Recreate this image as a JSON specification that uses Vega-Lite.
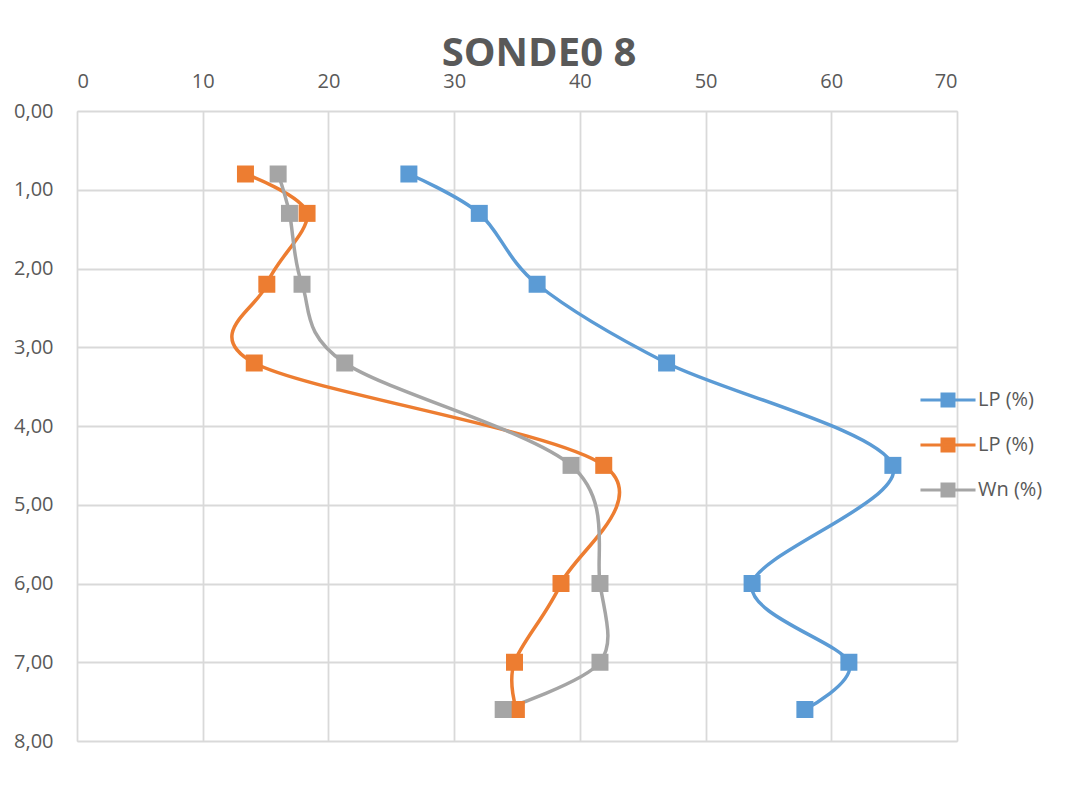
{
  "$schema": "https://vega.github.io/schema/vega-lite/v6.json",
  "width": 880,
  "height": 630,
  "autosize": {"type": "none"},
  "padding": {"left": 77, "top": 111, "right": 117, "bottom": 60},
  "background": "white",
  "title": {
    "text": "SONDE0 8",
    "anchor": "middle",
    "dx": 22,
    "dy": 41,
    "baseline": "alphabetic",
    "offset": 6,
    "font": "Open Sans",
    "fontWeight": "bold",
    "fontSize": 40,
    "color": "#595959"
  },
  "data": {
    "values": [
      {"serie": "LP1", "prof": 0.8, "v": 26.4},
      {"serie": "LP1", "prof": 1.3, "v": 32.0},
      {"serie": "LP1", "prof": 2.2, "v": 36.6},
      {"serie": "LP1", "prof": 3.2, "v": 46.9},
      {"serie": "LP1", "prof": 4.5, "v": 64.9},
      {"serie": "LP1", "prof": 6.0, "v": 53.7},
      {"serie": "LP1", "prof": 7.0, "v": 61.4},
      {"serie": "LP1", "prof": 7.6, "v": 57.9},
      {"serie": "LP2", "prof": 0.8, "v": 13.4},
      {"serie": "LP2", "prof": 1.3, "v": 18.3},
      {"serie": "LP2", "prof": 2.2, "v": 15.1},
      {"serie": "LP2", "prof": 3.2, "v": 14.1},
      {"serie": "LP2", "prof": 4.5, "v": 41.9},
      {"serie": "LP2", "prof": 6.0, "v": 38.5},
      {"serie": "LP2", "prof": 7.0, "v": 34.8},
      {"serie": "LP2", "prof": 7.6, "v": 34.95},
      {"serie": "Wn", "prof": 0.8, "v": 16.0},
      {"serie": "Wn", "prof": 1.3, "v": 16.9},
      {"serie": "Wn", "prof": 2.2, "v": 17.9},
      {"serie": "Wn", "prof": 3.2, "v": 21.3},
      {"serie": "Wn", "prof": 4.5, "v": 39.3},
      {"serie": "Wn", "prof": 6.0, "v": 41.6},
      {"serie": "Wn", "prof": 7.0, "v": 41.6},
      {"serie": "Wn", "prof": 7.6, "v": 33.9}
    ]
  },
  "encoding": {
    "x": {
      "field": "v",
      "type": "quantitative",
      "scale": {"domain": [0, 70], "nice": false, "zero": false},
      "axis": {
        "orient": "top",
        "title": null,
        "values": [0, 10, 20, 30, 40, 50, 60, 70],
        "domain": false,
        "ticks": false,
        "tickSize": 0,
        "labelPadding": 20,
        "labelFont": "Open Sans",
        "labelFontSize": 20,
        "labelColor": "#595959",
        "gridColor": "#D9D9D9",
        "gridWidth": 1.8
      }
    },
    "y": {
      "field": "prof",
      "type": "quantitative",
      "scale": {"domain": [0, 8], "reverse": true, "nice": false, "zero": false},
      "axis": {
        "title": null,
        "values": [0, 1, 2, 3, 4, 5, 6, 7, 8],
        "labelExpr": "replace(format(datum.value, '.2f'), '.', ',')",
        "domain": false,
        "ticks": false,
        "tickSize": 0,
        "labelPadding": 24,
        "labelFont": "Open Sans",
        "labelFontSize": 20,
        "labelColor": "#595959",
        "gridColor": "#D9D9D9",
        "gridWidth": 1.8
      }
    },
    "color": {
      "field": "serie",
      "type": "nominal",
      "scale": {"domain": ["LP1", "LP2", "Wn"], "range": ["#5B9BD5", "#ED7D31", "#A5A5A5"]},
      "legend": {
        "title": null,
        "orient": "none",
        "legendX": 861,
        "legendY": 279,
        "padding": 0,
        "symbolType": "M-3.67,0L3.67,0M-0.8,-0.8L0.8,-0.8L0.8,0.8L-0.8,0.8Z",
        "symbolSize": 225,
        "symbolStrokeWidth": 3,
        "labelOffset": 20,
        "rowPadding": 21,
        "labelFont": "Open Sans",
        "labelFontSize": 20,
        "labelColor": "#595959",
        "labelExpr": "datum.value == 'Wn' ? 'Wn (%)' : 'LP (%)'",
        "encode": {
          "symbols": {
            "update": {
              "fill": {"scale": "color", "field": "value"},
              "stroke": {"scale": "color", "field": "value"},
              "strokeWidth": {"value": 3},
              "opacity": {"value": 1}
            }
          }
        }
      }
    }
  },
  "layer": [
    {
      "mark": {"type": "line", "interpolate": "cardinal", "tension": 0.05, "strokeWidth": 3.5},
      "encoding": {"order": {"field": "prof", "type": "quantitative"}}
    },
    {
      "mark": {"type": "point", "shape": "square", "filled": true, "size": 289, "opacity": 1}
    }
  ]
}
